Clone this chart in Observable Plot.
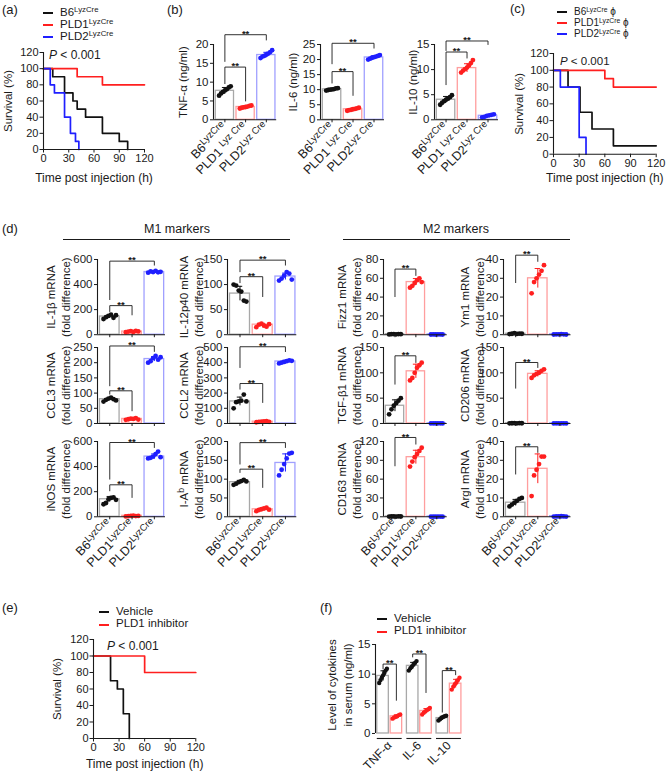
<!DOCTYPE html>
<html><head><meta charset="utf-8">
<script src="https://cdn.jsdelivr.net/npm/d3@7"></script>
<script src="https://cdn.jsdelivr.net/npm/@observablehq/plot@0.6"></script>
<style>
html,body{margin:0;padding:0;background:#fff;}
#root{position:relative;width:667px;height:774px;overflow:hidden;font-family:"Liberation Sans",Arial,Helvetica,sans-serif;color:#1a1a1a;}
.abs{position:absolute;white-space:nowrap;line-height:1;}
sup{font-size:68%;vertical-align:0;position:relative;top:-0.42em;line-height:0;}
.hl{position:absolute;height:0;}
</style>
</head><body><div id="root"></div>
<script>
// ---------------- DATA ----------------
// Survival curves: event times (h) and survival (%) after each step
const survXTicks = [0, 30, 60, 90, 120];
const survYTicks = [0, 20, 40, 60, 80, 100, 120];
const aB6_t = [0, 11, 25, 35, 40, 50, 70, 90, 100];
const aB6_s = [100, 90, 70, 60, 50, 40, 20, 10, 0];
const aPLD1_t = [0, 40, 70];
const aPLD1_s = [100, 90, 80];
const aPLD2_t = [0, 8, 13, 25, 32, 38, 42];
const aPLD2_s = [100, 80, 70, 40, 20, 10, 0];
const cB6_t = [0, 17, 31, 45, 70];
const cB6_s = [100, 80, 50, 30, 10];
const cPLD1_t = [0, 60, 70];
const cPLD1_s = [100, 90, 80];
const cPLD2_t = [0, 8, 30, 38];
const cPLD2_s = [100, 80, 20, 0];
const eVeh_t = [0, 20, 28, 35, 42];
const eVeh_s = [100, 70, 60, 30, 0];
const eInh_t = [0, 60];
const eInh_s = [100, 80];

const legendA = ["B6^LyzCre", "PLD1^LyzCre", "PLD2^LyzCre"];
const legendC = ["B6^LyzCre| ϕ", "PLD1^LyzCre| ϕ", "PLD2^LyzCre| ϕ"];
const legendE = ["Vehicle", "PLD1 inhibitor"];
const pText = "P";

// (b) serum cytokines
const genoB = ["B6^LyzCre", "PLD1 ^Lyz Cre", "PLD2^Lyz Cre"];
const tnf_bar = [7.7, 3.4, 17.2];
const tnf_dots = [[6.4, 7.0, 7.4, 7.8, 8.1, 8.6, 8.9], [3.0, 3.2, 3.3, 3.4, 3.5, 3.7, 3.8], [16.4, 16.8, 17.0, 17.3, 17.6, 18.0, 18.5]];
const tnf_sig = [[0, 1, 14.0, 9.6, 5.0], [0, 2, 22.6, 15.5, 21.2]];
const il6_bar = [10.1, 3.5, 20.7];
const il6_dots = [[9.7, 9.9, 10.0, 10.1, 10.2, 10.4, 10.5], [3.0, 3.2, 3.3, 3.5, 3.6, 3.8, 4.0], [20.0, 20.3, 20.6, 20.8, 21.0, 21.2, 21.5]];
const il6_sig = [[0, 1, 16.0, 12.2, 8.1], [0, 2, 25.4, 18.6, 23.8]];
const il10_bar = [4.0, 10.3, 0.8];
const il10_dots = [[3.0, 3.4, 3.7, 4.0, 4.2, 4.5, 4.9], [9.4, 9.8, 10.1, 10.4, 10.8, 11.3, 11.9], [0.5, 0.6, 0.8, 0.9, 1.0, 1.1]];
const il10_sig = [[0, 1, 13.5, 7.0, 12.3], [0, 2, 15.7, 13.8, 15.0]];

// (d) macrophage markers
const genoD = ["B6^LyzCre", "PLD1^LyzCre", "PLD2^LyzCre"];
const il1b_bar = [145, 25, 500];
const il1b_dots = [[125, 140, 150, 160, 135, 155], [20, 25, 28, 22, 30, 26], [495, 505, 500, 510, 498, 502]];
const il1b_sig = [[0, 1, 232, 185, 158], [0, 2, 587, 280, 555]];
const il12_bar = [82, 20, 116];
const il12_dots = [[100, 98, 88, 86, 68, 66], [15, 20, 22, 18, 16, 21], [108, 112, 118, 125, 122, 110]];
const il12_sig = [[0, 1, 115.7, 103.8, 76], [0, 2, 148.7, 125.6, 138.8]];
const ccl3_bar = [80, 15, 212];
const ccl3_dots = [[72, 78, 82, 85, 80, 76], [12, 14, 16, 15, 18, 13], [200, 205, 215, 222, 210, 218]];
const ccl3_sig = [[0, 1, 107.5, 96.5, 41.7], [0, 2, 255, 124, 237]];
const ccl2_bar = [145, 12, 408];
const ccl2_dots = [[100, 140, 145, 150, 190, 145], [8, 10, 12, 14, 15, 11], [395, 400, 405, 410, 415, 412]];
const ccl2_sig = [[0, 1, 263, 226, 138], [0, 2, 505, 368, 473]];
const inos_bar = [140, 8, 480];
const inos_dots = [[100, 110, 140, 150, 155, 135], [3, 5, 8, 10, 6, 7], [465, 470, 480, 500, 520, 475]];
const inos_sig = [[0, 1, 255, 207, 154], [0, 2, 592, 300, 552]];
const iab_bar = [92, 20, 143];
const iab_dots = [[85, 88, 92, 95, 98, 94], [15, 18, 20, 22, 24, 19], [110, 125, 140, 155, 168, 170]];
const iab_sig = [[0, 1, 126.5, 117.7, 77.9], [0, 2, 197, 140, 184]];
const fizz_bar = [0.5, 56, 0.3];
const fizz_dots = [[0.3, 0.5, 0.6, 0.4, 0.7, 0.5], [50, 52, 55, 58, 60, 56], [0.2, 0.3, 0.2, 0.4, 0.3, 0.2]];
const fizz_sig = [[0, 1, 69.8, 40.5, 63]];
const ym1_bar = [0.5, 30, 0.2];
const ym1_dots = [[0.3, 0.5, 0.8, 0.4, 0.6, 0.5], [22, 28, 30, 32, 34, 37], [0.1, 0.2, 0.2, 0.3, 0.2, 0.1]];
const ym1_sig = [[0, 1, 42.3, 27.7, 39]];
const tgf_bar = [35, 103, 0.3];
const tgf_dots = [[18, 28, 35, 40, 45, 50], [85, 90, 100, 110, 115, 120], [0.2, 0.3, 0.2, 0.4, 0.3, 0.2]];
const tgf_sig = [[0, 1, 133.6, 77.6, 120.4]];
const cd206_bar = [0.5, 98, 0.3];
const cd206_dots = [[0.3, 0.5, 0.6, 0.4, 0.7, 0.5], [90, 95, 98, 100, 104, 107], [0.2, 0.3, 0.2, 0.4, 0.3, 0.2]];
const cd206_sig = [[0, 1, 120.4, 69.7, 110.5]];
const cd163_bar = [0.5, 95, 0.3];
const cd163_dots = [[0.3, 0.5, 0.6, 0.4, 0.7, 0.5], [80, 88, 95, 100, 105, 110], [0.2, 0.3, 0.2, 0.4, 0.3, 0.2]];
const cd163_sig = [[0, 1, 126.4, 81.2, 115.8]];
const arg_bar = [7.5, 25.5, 0.3];
const arg_dots = [[5.5, 6.5, 7.5, 8.5, 9.5, 10], [11, 22, 25, 28, 32, 32], [0.1, 0.2, 0.2, 0.3, 0.2, 0.1]];
const arg_sig = [[0, 1, 37.2, 22.7, 34.2]];

// (f) inhibitor serum cytokines
const fGroups = ["TNF-α", "IL-6", "IL-10"];
const fVeh_bar = [9.7, 11.4, 2.6];
const fInh_bar = [2.9, 3.8, 8.4];
const fVeh_dots = [[8.5, 9.0, 9.4, 9.8, 10.2, 10.6, 10.9], [10.6, 11.0, 11.3, 11.6, 11.9, 12.2], [2.2, 2.4, 2.6, 2.8, 2.9, 3.0]];
const fInh_dots = [[2.5, 2.7, 2.8, 2.9, 3.1, 3.2], [3.2, 3.5, 3.7, 3.9, 4.1, 4.3], [7.4, 7.9, 8.3, 8.6, 9.0, 9.4]];
const fSig = [[11.7, 10.9, 5.6], [13.4, 12.9, 6.9], [10.6, 3.6, 9.9]];

// ---------------- STYLE / HELPERS ----------------
const root = document.getElementById("root");
const FONT = '"Liberation Sans", Arial, Helvetica, sans-serif';
const INK = "#1a1a1a";
const COL = ["#111111", "#ff1f1f", "#1f1fff"];
const BARC = ["#a8a8a8", "#ff9e9e", "#a0a0ff"];
const SVGNS = "http://www.w3.org/2000/svg";

function supHTML(s) {
  const m = s.match(/^(.*?)\^([^|]*)\|?(.*)$/);
  if (!m) return s;
  return `${m[1]}<sup>${m[2]}</sup>${m[3]}`;
}
function supify(svg) {
  svg.querySelectorAll("text").forEach(t => {
    const tsp = t.querySelectorAll("tspan");
    const targets = tsp.length ? [...tsp] : [t];
    targets.forEach(el => {
      const s = el.textContent;
      if (!s.includes("^")) return;
      const m = s.match(/^(.*?)\^([^|]*)\|?(.*)$/);
      el.textContent = m[1];
      const fs = parseFloat(getComputedStyle(el).fontSize) || 11;
      const sp = document.createElementNS(SVGNS, "tspan");
      sp.setAttribute("font-size", (fs * 0.76).toFixed(1));
      sp.setAttribute("dy", (-fs * 0.36).toFixed(1));
      sp.textContent = m[2];
      el.appendChild(sp);
      if (m[3]) {
        const r = document.createElementNS(SVGNS, "tspan");
        r.setAttribute("dy", (fs * 0.36).toFixed(1));
        r.textContent = m[3];
        el.appendChild(r);
      }
    });
  });
}
function mount(svg, left, top) {
  svg.style.position = "absolute";
  svg.style.left = left + "px";
  svg.style.top = top + "px";
  root.appendChild(svg);
  supify(svg);
}
function html(x, y, content, size = 12, center = false) {
  const d = document.createElement("div");
  d.className = "abs";
  d.style.left = x + "px"; d.style.top = y + "px";
  d.style.fontSize = size + "px";
  if (center) d.style.transform = "translateX(-50%)";
  d.innerHTML = content;
  root.appendChild(d);
  return d;
}
function hline(x1, x2, y, color = INK, w = 1) {
  const d = document.createElement("div");
  d.className = "hl";
  d.style.left = x1 + "px"; d.style.top = (y - w / 2) + "px";
  d.style.width = (x2 - x1) + "px";
  d.style.borderTop = `${w}px solid ${color}`;
  root.appendChild(d);
}
function legend(x, y, labels, colors, gap, size = 12) {
  labels.forEach((lab, i) => {
    const yy = y + i * gap;
    hline(x, x + 10, yy, colors[i], 2);
    html(x + 17, yy - size * 0.55, supHTML(lab), size);
  });
}
const baseStyle = {background: "transparent", overflow: "visible", fontFamily: FONT, fontSize: "11px", color: INK};

function km(t, s) {
  const pts = t.map((x, i) => ({t: x, s: s[i]}));
  if (s[s.length - 1] > 0) pts.push({t: 120, s: s[s.length - 1]});
  return pts;
}

function survival({L, T, R, B, series, ylDx = -35, xlDy = 30}) {
  const mL = 50, mT = 8, mR = 14, mB = 44;
  const svg = Plot.plot({
    width: R - L + mL + mR, height: B - T + mT + mB,
    marginLeft: mL, marginTop: mT, marginRight: mR, marginBottom: mB,
    x: {domain: [0, 120]}, y: {domain: [0, 120]},
    style: baseStyle,
    marks: [
      ...series.map(s => Plot.line(km(s.t, s.s), {x: "t", y: "s", curve: "step-after", stroke: s.color, strokeWidth: 1.7})),
      Plot.ruleX([0], {y1: 0, y2: 120, stroke: INK, strokeWidth: 1.1}),
      Plot.ruleY([0], {x1: 0, x2: 120, stroke: INK, strokeWidth: 1.1}),
      Plot.axisY({ticks: survYTicks, tickSize: 3.5, tickPadding: 1.5, label: null, fontSize: 11}),
      Plot.axisX({ticks: survXTicks, tickSize: 3.5, tickPadding: 1.5, label: null, fontSize: 11}),
      Plot.text(["Survival (%)"], {text: d => d, frameAnchor: "left", textAnchor: "middle", lineAnchor: "middle", rotate: -90, dx: ylDx, fontSize: 11.5}),
      Plot.text(["Time post injection (h)"], {text: d => d, frameAnchor: "bottom", textAnchor: "middle", lineAnchor: "bottom", dy: xlDy, fontSize: 12})
    ]
  });
  mount(svg, L - mL, T - mT);
}

function barPlot({L, R, T, B, ymax, yticks, bar, dots, sig, labels, ylabel, labelDx, showX}) {
  const x0 = -0.55, x1 = 2.5;
  const mL = 70, mT = 18, mR = 8, mB = showX ? 85 : 8;
  const groups = bar.map((v, i) => ({i, v, sd: d3.deviation(dots[i]) || 0}));
  const pts = dots.flatMap((arr, i) => arr.map((v, j) => ({i, v, off: (j - (arr.length - 1) / 2) * (0.56 / (arr.length - 1))})));
  const br = sig.flatMap(([a, b, y, ya, yb], k) => [{k, x: a, y: ya}, {k, x: a, y}, {k, x: b, y}, {k, x: b, y: yb}]);
  const svg = Plot.plot({
    width: R - L + mL + mR, height: B - T + mT + mB,
    marginLeft: mL, marginTop: mT, marginRight: mR, marginBottom: mB,
    x: {domain: [x0, x1]}, y: {domain: [0, ymax]}, color: {type: "identity"},
    style: baseStyle,
    marks: [
      Plot.rect(groups, {x1: d => d.i - 0.44, x2: d => d.i + 0.44, y1: 0, y2: "v", fill: "white", stroke: d => BARC[d.i], strokeWidth: 1.3}),
      Plot.ruleX(groups, {x: "i", y1: d => Math.max(0, d.v - d.sd), y2: d => d.v + d.sd, stroke: d => COL[d.i], strokeWidth: 1}),
      Plot.ruleY(groups, {y: d => d.v + d.sd, x1: d => d.i - 0.12, x2: d => d.i + 0.12, stroke: d => COL[d.i], strokeWidth: 1}),
      Plot.dot(pts, {x: d => d.i + d.off, y: "v", r: 2.4, fill: d => COL[d.i], stroke: "none"}),
      Plot.line(br, {x: "x", y: "y", z: "k", stroke: INK, strokeWidth: 0.9}),
      Plot.text(sig, {x: d => (d[0] + d[1]) / 2, y: d => d[2], text: () => "**", lineAnchor: "middle", dy: -1, fontSize: 9.5, fontWeight: "bold"}),
      Plot.ruleX([x0], {y1: 0, y2: ymax, stroke: INK, strokeWidth: 1.1}),
      Plot.ruleY([0], {x1: x0, x2: x1, stroke: INK, strokeWidth: 1.1}),
      Plot.axisY({ticks: yticks, tickSize: 3, tickPadding: 2, label: null, fontSize: 11.5}),
      Plot.axisX({ticks: [0, 1, 2], tickSize: 3, tickPadding: 2, tickRotate: -45, label: null, fontSize: 12.5, tickFormat: i => showX ? labels[i] : ""}),
      Plot.text([ylabel], {text: d => d, frameAnchor: "left", textAnchor: "middle", lineAnchor: "middle", rotate: -90, dx: labelDx, lineHeight: 1.35, fontSize: 11.5})
    ]
  });
  mount(svg, L - mL, T - mT);
}

// ---------------- PANEL (a) ----------------
html(2, 3, "(a)", 13);
legend(43, 13, legendA, COL, 12, 11.5);
survival({L: 43.3, T: 52, R: 144.3, B: 149, xlDy: 32, series: [
  {t: aB6_t, s: aB6_s, color: COL[0]},
  {t: aPLD1_t, s: aPLD1_s, color: COL[1]},
  {t: aPLD2_t, s: aPLD2_s, color: COL[2]}]});
html(49, 49, `<i>${pText}</i> &lt; 0.001`, 12);

// ---------------- PANEL (b) ----------------
html(167, 3, "(b)", 13);
barPlot({L: 213.3, R: 276.5, T: 44, B: 119.3, ymax: 20, yticks: [0, 5, 10, 15, 20], bar: tnf_bar, dots: tnf_dots, sig: tnf_sig, labels: genoB, ylabel: "TNF-α (ng/ml)", labelDx: -31, showX: true});
barPlot({L: 320, R: 384, T: 44, B: 119.3, ymax: 25, yticks: [0, 5, 10, 15, 20, 25], bar: il6_bar, dots: il6_dots, sig: il6_sig, labels: genoB, ylabel: "IL-6 (ng/ml)", labelDx: -28, showX: true});
barPlot({L: 434, R: 498, T: 44, B: 119.3, ymax: 15, yticks: [0, 5, 10, 15], bar: il10_bar, dots: il10_dots, sig: il10_sig, labels: genoB, ylabel: "IL-10 (ng/ml)", labelDx: -22, showX: true});

// ---------------- PANEL (c) ----------------
html(510, 2, "(c)", 13);
legend(557, 12, legendC, COL, 11, 10);
survival({L: 553.3, T: 53.3, R: 656, B: 154, ylDx: -34, xlDy: 28, series: [
  {t: cB6_t, s: cB6_s, color: COL[0]},
  {t: cPLD1_t, s: cPLD1_s, color: COL[1]},
  {t: cPLD2_t, s: cPLD2_s, color: COL[2]}]});
html(560, 56, `<i>${pText}</i> &lt; 0.001`, 11.5);

// ---------------- PANEL (d) ----------------
html(2, 222, "(d)", 13);
html(177, 223, "M1 markers", 12.5, true);
hline(63, 290, 239);
html(456, 223, "M2 markers", 12.5, true);
hline(343, 570, 239);
const rows = [[259.3, 334.5], [346.7, 422.7], [440.7, 516]];
const cols = [[97, 165, -40], [226.7, 296, -37], [383.3, 447, -35], [502.5, 570, -32]];
const dPanels = [
  [0, 0, 600, [0, 200, 400, 600], il1b_bar, il1b_dots, il1b_sig, "IL-1β mRNA\n(fold difference)"],
  [0, 1, 150, [0, 50, 100, 150], il12_bar, il12_dots, il12_sig, "IL-12p40 mRNA\n(fold difference)"],
  [1, 0, 250, [0, 50, 100, 150, 200, 250], ccl3_bar, ccl3_dots, ccl3_sig, "CCL3 mRNA\n(fold difference)"],
  [1, 1, 500, [0, 100, 200, 300, 400, 500], ccl2_bar, ccl2_dots, ccl2_sig, "CCL2 mRNA\n(fold difference)"],
  [2, 0, 600, [0, 200, 400, 600], inos_bar, inos_dots, inos_sig, "iNOS mRNA\n(fold difference)"],
  [2, 1, 200, [0, 50, 100, 150, 200], iab_bar, iab_dots, iab_sig, "I-A^b| mRNA\n(fold difference)"],
  [0, 2, 80, [0, 20, 40, 60, 80], fizz_bar, fizz_dots, fizz_sig, "Fizz1 mRNA\n(fold difference)"],
  [0, 3, 40, [0, 10, 20, 30, 40], ym1_bar, ym1_dots, ym1_sig, "Ym1 mRNA\n(fold difference)"],
  [1, 2, 150, [0, 50, 100, 150], tgf_bar, tgf_dots, tgf_sig, "TGF-β1 mRNA\n(fold difference)"],
  [1, 3, 150, [0, 50, 100, 150], cd206_bar, cd206_dots, cd206_sig, "CD206 mRNA\n(fold difference)"],
  [2, 2, 120, [0, 30, 60, 90, 120], cd163_bar, cd163_dots, cd163_sig, "CD163 mRNA\n(fold difference)"],
  [2, 3, 40, [0, 10, 20, 30, 40], arg_bar, arg_dots, arg_sig, "ArgI mRNA\n(fold difference)"]
];
dPanels.forEach(([r, c, ymax, yticks, bar, dots, sig, lab]) => {
  barPlot({L: cols[c][0], R: cols[c][1], T: rows[r][0], B: rows[r][1], ymax, yticks, bar, dots, sig, labels: genoD, ylabel: lab, labelDx: cols[c][2], showX: r === 2});
});

// ---------------- PANEL (e) ----------------
html(2, 601, "(e)", 13);
legend(99, 612, legendE, [COL[0], COL[1]], 12.5, 11.5);
survival({L: 92.7, T: 639.3, R: 195, B: 738.3, ylDx: -36, xlDy: 30, series: [
  {t: eVeh_t, s: eVeh_s, color: COL[0]},
  {t: eInh_t, s: eInh_s, color: COL[1]}]});
html(107, 640, `<i>${pText}</i> &lt; 0.001`, 12);

// ---------------- PANEL (f) ----------------
html(320, 601, "(f)", 13);
legend(377, 619, legendE, [COL[0], COL[1]], 12.5, 11.5);
(function () {
  const L = 375, R = 462.7, T = 644, B = 733, x0 = -0.48, x1 = 2.48, off = 0.225, hw = 0.195;
  const mL = 70, mT = 18, mR = 8, mB = 50;
  const bars = fGroups.flatMap((g, i) => [
    {i, s: 0, x: i - off, v: fVeh_bar[i], sd: d3.deviation(fVeh_dots[i])},
    {i, s: 1, x: i + off, v: fInh_bar[i], sd: d3.deviation(fInh_dots[i])}]);
  const pts = fGroups.flatMap((g, i) => [
    ...fVeh_dots[i].map((v, j, a) => ({x: i - off + (j - (a.length - 1) / 2) * (0.26 / (a.length - 1)), v, s: 0})),
    ...fInh_dots[i].map((v, j, a) => ({x: i + off + (j - (a.length - 1) / 2) * (0.26 / (a.length - 1)), v, s: 1}))]);
  const br = fSig.flatMap(([y, ya, yb], k) => [{k, x: k - off, y: ya}, {k, x: k - off, y}, {k, x: k + off, y}, {k, x: k + off, y: yb}]);
  const svg = Plot.plot({
    width: R - L + mL + mR, height: B - T + mT + mB,
    marginLeft: mL, marginTop: mT, marginRight: mR, marginBottom: mB,
    x: {domain: [x0, x1]}, y: {domain: [0, 15]}, color: {type: "identity"},
    style: baseStyle,
    marks: [
      Plot.rect(bars, {x1: d => d.x - hw, x2: d => d.x + hw, y1: 0, y2: "v", fill: "white", stroke: d => BARC[d.s], strokeWidth: 1.3}),
      Plot.ruleX(bars, {x: "x", y1: d => d.v - d.sd, y2: d => d.v + d.sd, stroke: d => COL[d.s], strokeWidth: 1}),
      Plot.ruleY(bars, {y: d => d.v + d.sd, x1: d => d.x - 0.07, x2: d => d.x + 0.07, stroke: d => COL[d.s], strokeWidth: 1}),
      Plot.dot(pts, {x: "x", y: "v", r: 2.2, fill: d => COL[d.s], stroke: "none"}),
      Plot.line(br, {x: "x", y: "y", z: "k", stroke: INK, strokeWidth: 0.9}),
      Plot.text(fSig, {x: (d, k) => k, y: d => d[0], text: () => "**", lineAnchor: "middle", dy: -1, fontSize: 9.5, fontWeight: "bold"}),
      Plot.ruleY(fGroups.map((g, i) => i), {y: 0, x1: d => d - 0.42, x2: d => d + 0.42, dy: 5, stroke: INK, strokeWidth: 1.1}),
      Plot.ruleX([x0], {y1: 0, y2: 15, stroke: INK, strokeWidth: 1.1}),
      Plot.axisY({ticks: [0, 5, 10, 15], tickSize: 3, tickPadding: 2, label: null, fontSize: 11.5}),
      Plot.axisX({ticks: [0, 1, 2], tickSize: 0, tickPadding: 10, tickRotate: -45, label: null, fontSize: 12, tickFormat: i => fGroups[i]}),
      Plot.text(["Level of cytokines\nin serum (ng/ml)"], {text: d => d, frameAnchor: "left", textAnchor: "middle", lineAnchor: "middle", rotate: -90, dx: -36.5, dy: -4, lineHeight: 1.35, fontSize: 11.5})
    ]
  });
  mount(svg, L - mL, T - mT);
})();
</script></body></html>
